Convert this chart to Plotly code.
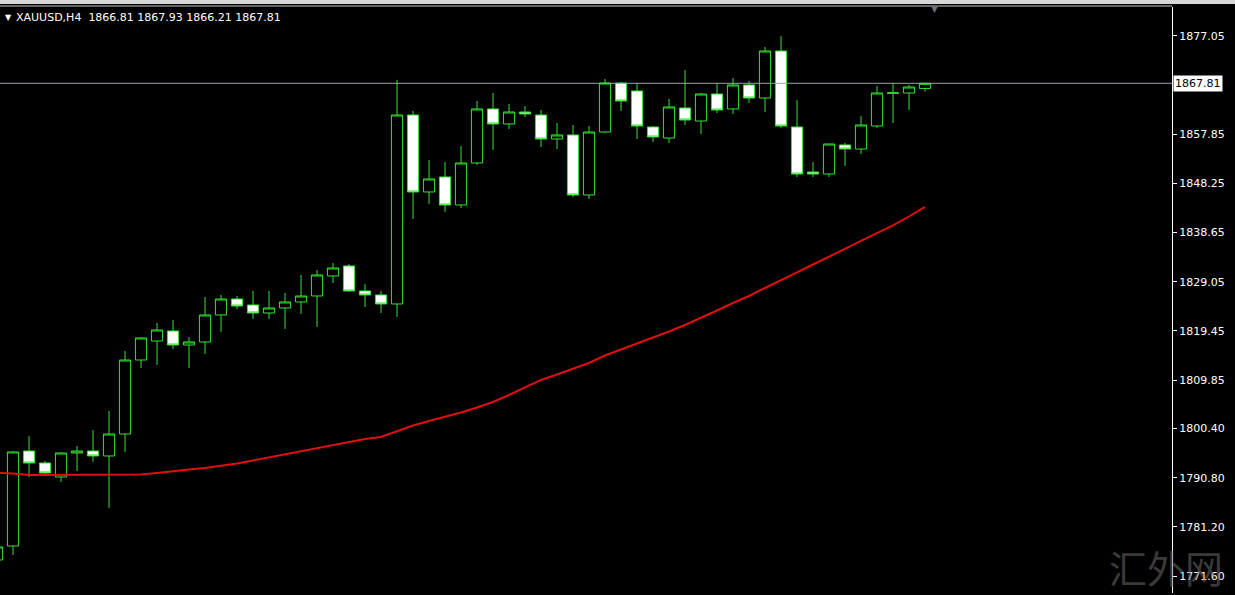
import plotly.graph_objects as go

# ---------------- data ----------------
symbol = "XAUUSD,H4"
last_ohlc = [1866.81, 1867.93, 1866.21, 1867.81]
last_price = 1867.81

bars = list(range(59))

opens = [1774.73, 1777.46, 1796.01, 1793.67, 1790.94, 1795.62, 1796.01, 1795.04, 1799.33, 1813.78,
         1817.49, 1819.45, 1816.71, 1817.30, 1822.57, 1825.69, 1824.52, 1822.96, 1823.94, 1825.11,
         1826.28, 1830.19, 1832.14, 1827.26, 1826.48, 1824.72, 1861.62, 1846.59, 1849.52, 1844.05,
         1852.25, 1862.80, 1859.87, 1862.21, 1861.62, 1856.94, 1857.72, 1846.00, 1858.30, 1867.87,
         1866.31, 1859.28, 1857.13, 1862.99, 1860.45, 1865.72, 1862.80, 1867.48, 1864.94, 1874.12,
         1859.28, 1850.49, 1850.10, 1855.77, 1854.98, 1859.48, 1865.85, 1865.92, 1866.81]

highs = [1777.66, 1796.01, 1798.94, 1794.06, 1795.80, 1796.99, 1800.11, 1803.82, 1815.54, 1818.27,
         1821.01, 1821.59, 1818.27, 1826.08, 1826.48, 1826.28, 1827.26, 1827.26, 1826.87, 1830.38,
         1831.36, 1832.72, 1832.53, 1828.62, 1827.26, 1868.46, 1862.41, 1852.84, 1852.45, 1855.57,
         1864.36, 1865.92, 1863.77, 1863.38, 1862.60, 1860.06, 1859.67, 1859.48, 1868.65, 1868.07,
         1867.87, 1859.48, 1864.75, 1870.41, 1865.92, 1867.87, 1868.85, 1868.26, 1874.90, 1877.05,
         1864.55, 1852.45, 1856.00, 1856.16, 1861.43, 1867.29, 1867.87, 1867.48, 1867.93]

lows = [1774.14, 1775.71, 1790.94, 1791.52, 1789.96, 1792.11, 1793.87, 1784.88, 1795.82, 1812.22,
        1812.81, 1815.93, 1812.22, 1814.95, 1819.25, 1823.74, 1821.79, 1821.79, 1819.84, 1822.77,
        1820.23, 1828.82, 1827.06, 1824.13, 1822.96, 1822.18, 1841.32, 1844.24, 1842.68, 1843.46,
        1851.86, 1854.79, 1858.89, 1861.23, 1855.38, 1854.98, 1845.61, 1845.22, 1858.10, 1862.41,
        1856.94, 1856.35, 1856.16, 1859.67, 1857.91, 1862.01, 1861.82, 1863.97, 1862.21, 1859.09,
        1849.52, 1849.52, 1849.52, 1851.67, 1854.01, 1859.09, 1860.06, 1862.60, 1866.21]

closes = [1777.27, 1795.82, 1793.67, 1791.72, 1795.62, 1796.01, 1795.04, 1799.33, 1813.78, 1818.08,
          1819.64, 1816.71, 1817.30, 1822.57, 1825.69, 1824.33, 1822.96, 1823.94, 1825.11, 1826.28,
          1830.38, 1831.75, 1827.26, 1826.48, 1824.72, 1861.62, 1846.59, 1849.13, 1844.05, 1852.25,
          1862.80, 1859.87, 1862.21, 1861.82, 1856.94, 1857.72, 1846.00, 1858.30, 1867.87, 1864.36,
          1859.48, 1857.33, 1863.19, 1860.65, 1865.72, 1862.60, 1867.48, 1864.94, 1874.12, 1859.48,
          1850.10, 1850.10, 1855.96, 1854.98, 1859.67, 1865.92, 1865.95, 1867.09, 1867.81]

ma = [1791.72, 1791.62, 1791.33, 1791.33, 1791.33, 1791.33, 1791.33, 1791.33, 1791.33, 1791.43,
      1791.72, 1792.11, 1792.40, 1792.69, 1793.08, 1793.57, 1794.16, 1794.74, 1795.43, 1796.01,
      1796.60, 1797.18, 1797.77, 1798.36, 1798.75, 1799.92, 1800.99, 1801.87, 1802.65, 1803.53,
      1804.51, 1805.58, 1806.95, 1808.41, 1809.88, 1810.95, 1812.03, 1813.20, 1814.66, 1815.83,
      1816.91, 1818.08, 1819.35, 1820.62, 1821.98, 1823.45, 1824.91, 1826.28, 1827.84, 1829.31,
      1830.87, 1832.43, 1833.90, 1835.46, 1837.02, 1838.48, 1840.05, 1841.80, 1843.66]

tick_vals = [1877.05, 1857.85, 1848.25, 1838.65, 1829.05, 1819.45, 1809.85, 1800.40, 1790.80, 1781.20, 1771.60]
tick_text = [f"{v:.2f}" for v in tick_vals]

watermark = "汇外网"

# ---------------- style ----------------
GREEN = "#36e236"
RED = "#e01010"
FONT = "DejaVu Sans"

W, H = 1235, 595
ML, MR, MT, MB = 0, 63, 7, 2
PH = H - MT - MB


def py2paper(py):
    return (H - MB - py) / PH


fig = go.Figure()
fig.add_trace(go.Candlestick(
    x=bars, open=opens, high=highs, low=lows, close=closes,
    increasing=dict(line=dict(color=GREEN, width=1), fillcolor="black"),
    decreasing=dict(line=dict(color=GREEN, width=1), fillcolor="white"),
    whiskerwidth=0, hoverinfo="skip", showlegend=False,
))
fig.add_trace(go.Scatter(
    x=bars, y=ma, mode="lines", line=dict(color=RED, width=2),
    hoverinfo="skip", showlegend=False,
))

shapes = [
    # current price line
    dict(type="line", xref="paper", yref="y", x0=0, x1=1, y0=last_price, y1=last_price,
         line=dict(color="#9aa2aa", width=1)),
    # window strip at the very top
    dict(type="rect", xref="paper", yref="paper", x0=0, x1=W / (W - ML - MR),
         y0=py2paper(4), y1=py2paper(-1), fillcolor="#d8d8d8", line=dict(width=0)),
    # top border of chart
    dict(type="line", xref="paper", yref="paper", x0=0, x1=1, y0=py2paper(6), y1=py2paper(6),
         line=dict(color="#c8c8c8", width=1)),
]

annotations = [
    dict(xref="paper", yref="paper", x=0, xshift=3, y=py2paper(17), xanchor="left", yanchor="middle",
         text="▼", showarrow=False, font=dict(family=FONT, size=8, color="white")),
    dict(xref="paper", yref="paper", x=0, xshift=14, y=py2paper(17), xanchor="left", yanchor="middle",
         text=symbol + "\u00a0\u00a0" + " ".join(f"{v:.2f}" for v in last_ohlc), showarrow=False,
         font=dict(family=FONT, size=11, color="white")),
    dict(xref="paper", yref="y", x=1, xshift=1, y=last_price, xanchor="left", yanchor="middle",
         text=f"{last_price:.2f}", showarrow=False, bgcolor="white", borderpad=1,
         font=dict(family=FONT, size=11, color="black")),
    dict(xref="x", yref="paper", x=58.6, y=py2paper(9), xanchor="center", yanchor="middle",
         text="▼", showarrow=False, font=dict(family=FONT, size=9, color="#707070")),
    dict(xref="paper", yref="paper", x=1166 / (W - ML - MR), y=py2paper(566), xanchor="center",
         yanchor="middle", text=watermark, showarrow=False,
         font=dict(family="Noto Sans CJK SC", size=38, color="rgba(110,110,110,0.55)")),
]

fig.update_layout(
    width=W, height=H,
    margin=dict(l=ML, r=MR, t=MT, b=MB, pad=0),
    paper_bgcolor="black", plot_bgcolor="black",
    showlegend=False,
    boxgap=0.3, boxgroupgap=0,
    xaxis=dict(range=[0.1875, 73.4375], visible=False, rangeslider=dict(visible=False),
               showgrid=False, zeroline=False),
    yaxis=dict(side="right", range=[1768.28, 1882.71], tickmode="array", tickvals=tick_vals,
               ticktext=tick_text, showgrid=False, zeroline=False, ticks="outside", ticklen=4,
               tickcolor="white", tickwidth=1, showline=True, linecolor="white", linewidth=1,
               tickfont=dict(family=FONT, size=11, color="white")),
    shapes=shapes,
    annotations=annotations,
)

fig.write_html(
    "out.html",
    config={"displayModeBar": False},
    post_script="document.body.style.margin='0';document.body.style.background='black';"
                "document.body.style.overflow='hidden';",
)
